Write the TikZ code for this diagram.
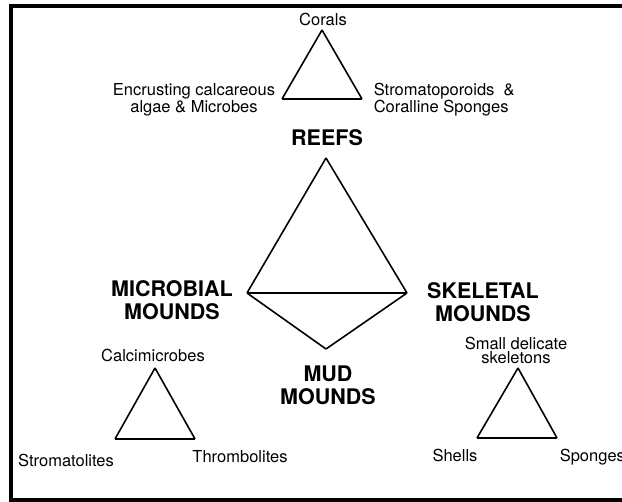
\documentclass[tikz,border=0pt]{standalone}
\usepackage{fontspec}
\setmainfont{TeX Gyre Heros}
\begin{document}
\begin{tikzpicture}
  [x=1pt,y=-1pt,line width=1.6pt,line join=miter,
   every node/.style={inner sep=0pt,font=\fontsize{16.5}{17}\selectfont},
   big/.style={font=\fontsize{21.5}{23}\selectfont\bfseries,align=center}]
  \useasboundingbox (0,0) rectangle (622,502);
  \clip (0,0) rectangle (622,502);
  \draw[line width=4pt] (11,6) rectangle (650,500.5);

  % reef triangle
  \coordinate (c1) at (322,30);
  \coordinate (c2) at (282,99);
  \coordinate (c3) at (362,99);
  \node (corals) at (323,19) {Corals};
  \node[align=center] (algae) at (194,100) {Encrusting calcareous\\algae \& Microbes};
  \node[align=left,anchor=west] (stroma) at (373,100) {Stromatoporoids \ \&\\Coralline Sponges};

  % main diagram
  \coordinate (r) at (326,158);
  \coordinate (mi) at (247,293);
  \coordinate (sk) at (407,293);
  \coordinate (mu) at (326,349);
  \node[big] (reefs) at (327,138) {REEFS};
  \node[big] (micro) at (172,300) {MICROBIAL\\MOUNDS};
  \node[big] (skel) at (483,302) {SKELETAL\\MOUNDS};
  \node[big] (mud) at (328,385) {MUD\\MOUNDS};

  % microbial triangle
  \coordinate (m1) at (155,368);
  \coordinate (m2) at (115,439);
  \coordinate (m3) at (195,439);
  \node (calci) at (153,355) {Calcimicrobes};
  \node (stromat) at (66,460) {Stromatolites};
  \node (thromb) at (240,457) {Thrombolites};

  % skeletal triangle
  \coordinate (s1) at (518,368);
  \coordinate (s2) at (477,438);
  \coordinate (s3) at (557,438);
  \node[align=center,font=\fontsize{16.5}{14}\selectfont] (small) at (516,350) {Small delicate\\skeletons};
  \node (shells) at (455,455) {Shells};
  \node[anchor=west] (sponges) at (559,457) {Sponges};

  \foreach \from/\to in {c1/c2, c2/c3, c3/c1, r/mi, mi/sk, sk/r, mi/mu, mu/sk,
                         m1/m2, m2/m3, m3/m1, s1/s2, s2/s3, s3/s1}
    \draw (\from) -- (\to);

\end{tikzpicture}
\end{document}
